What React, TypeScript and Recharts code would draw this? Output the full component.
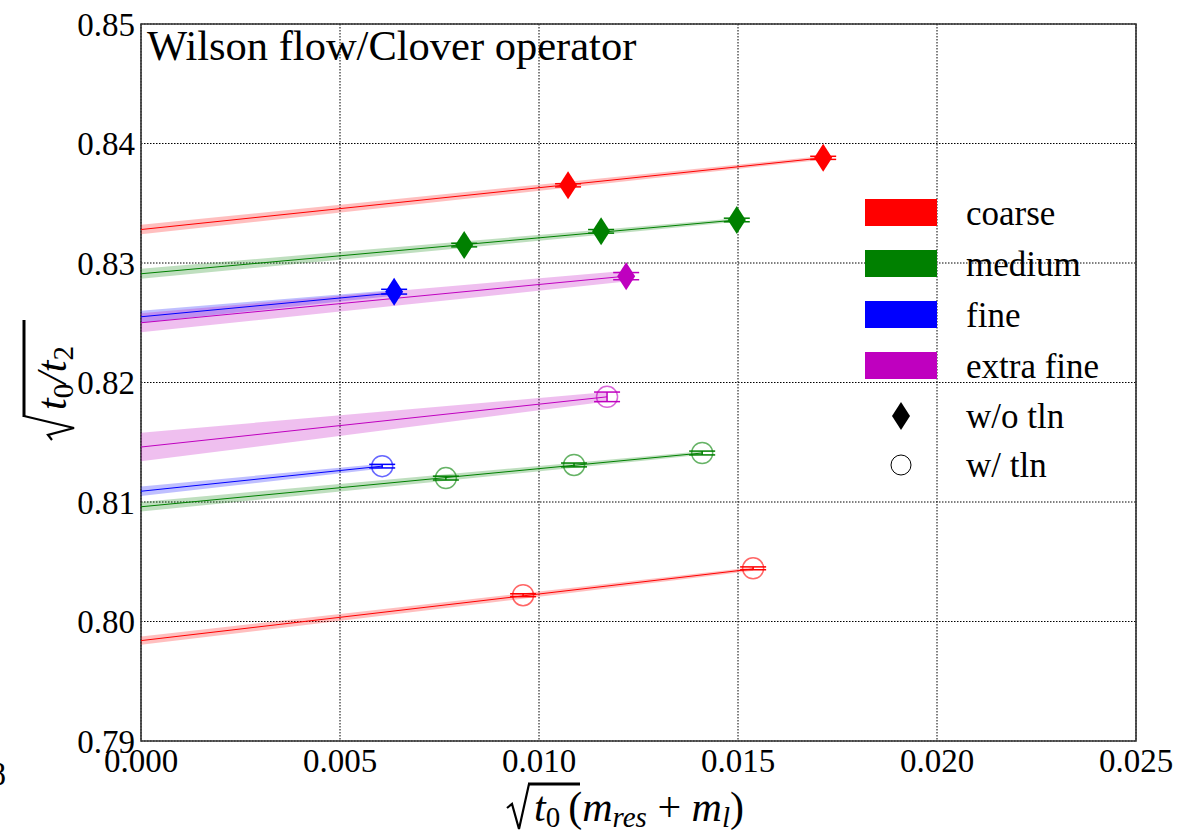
import React from 'react';
import {
  ComposedChart,
  XAxis,
  YAxis,
  CartesianGrid,
  Area,
  Line,
  Scatter,
  ErrorBar,
  ReferenceArea,
  Legend,
} from 'recharts';

const FONT = '"Liberation Serif", "DejaVu Serif", "Times New Roman", serif';

// lattice spacings and their colours
const spacings = ['coarse', 'medium', 'fine', 'extra fine'];
const colors = ['#ff0000', '#008000', '#0000ff', '#bf00bf'];

const xTicks = [0, 0.005, 0.01, 0.015, 0.02, 0.025];
const yTicks = [0.79, 0.8, 0.81, 0.82, 0.83, 0.84, 0.85];

// measurements without tree-level normalisation (diamonds)
const noTlnX = [[0.01073, 0.01714], [0.00812, 0.01156, 0.01497], [0.00636], [0.01219]];
const noTlnY = [[0.8365, 0.8388], [0.8315, 0.83265, 0.8336], [0.8276], [0.8289]];
const noTlnErr = [[0.00013, 0.00013], [0.00015, 0.00015, 0.00015], [0.0002], [0.0003]];

// measurements with tree-level normalisation (circles)
const tlnX = [[0.0096, 0.01538], [0.00766, 0.01088, 0.0141], [0.00606], [0.01171]];
const tlnY = [[0.8022, 0.80445], [0.812, 0.8131, 0.8141], [0.813], [0.8188]];
const tlnErr = [[0.00012, 0.00012], [0.00016, 0.00016, 0.00016], [0.00015], [0.0004]];

// linear chiral fits: end of fit range, value at 0 and at the end, half-width of band at both ends
const fitNoTlnEnd = [0.01714, 0.01497, 0.00636, 0.01219];
const fitNoTlnAt0 = [0.8328, 0.8291, 0.8255, 0.825];
const fitNoTlnAtEnd = [0.8388, 0.8336, 0.8275, 0.8289];
const fitNoTlnBand0 = [0.0004, 0.00042, 0.0005, 0.0008];
const fitNoTlnBandEnd = [0.00015, 0.00015, 0.00025, 0.00045];

const fitTlnEnd = [0.01538, 0.0141, 0.00606, 0.01171];
const fitTlnAt0 = [0.7984, 0.8096, 0.8109, 0.8146];
const fitTlnAtEnd = [0.8044, 0.8141, 0.813, 0.8188];
const fitTlnBand0 = [0.00035, 0.0004, 0.0004, 0.0012];
const fitTlnBandEnd = [0.00015, 0.00015, 0.0002, 0.0004];

const makePoints = (xs: number[], ys: number[], errs: number[]) =>
  xs.map((x, i) => ({ x, y: ys[i], err: errs[i] }));

const makeFit = (x1: number, y0: number, y1: number, b0: number, b1: number) => [
  { x: 0, mid: y0, band: [y0 - b0, y0 + b0] },
  { x: x1, mid: y1, band: [y1 - b1, y1 + b1] },
];

const diamondShape = (color: string) => (props: any) => {
  const { cx, cy } = props;
  if (cx == null || cy == null) return <g />;
  return (
    <path
      d={`M${cx},${cy - 14}L${cx + 9},${cy}L${cx},${cy + 14}L${cx - 9},${cy}Z`}
      fill={color}
    />
  );
};

const circleShape = (color: string) => (props: any) => {
  const { cx, cy } = props;
  if (cx == null || cy == null) return <g />;
  return (
    <circle cx={cx} cy={cy} r={10.5} fill="none" stroke={color} strokeWidth={1.5} strokeOpacity={0.6} />
  );
};

const LegendBox = () => (
  <svg width={320} height={300} style={{ overflow: 'visible', display: 'block' }}>
    {spacings.map((s, i) => (
      <g key={s}>
        <rect x={5} y={9 + i * 51} width={72} height={27} fill={colors[i]} />
        <text x={106} y={35 + i * 51} fontSize={35} fontFamily={FONT} fill="#000">
          {s}
        </text>
      </g>
    ))}
    <path d="M41,212L50,226L41,240L32,226Z" fill="#000" />
    <text x={106} y={238} fontSize={35} fontFamily={FONT} fill="#000">w/o tln</text>
    <circle cx={41} cy={275} r={10} fill="none" stroke="#000" strokeWidth={1} />
    <text x={106} y={287} fontSize={35} fontFamily={FONT} fill="#000">w/ tln</text>
  </svg>
);

const XTitle = () => {
  const x0 = 507;
  const yb = 821;
  return (
    <g fontFamily={FONT} fill="#000">
      <path
        d={`M${x0},${yb - 13}L${x0 + 5},${yb - 17}L${x0 + 12},${yb + 8}L${x0 + 22},${yb - 37}`}
        fill="none"
        stroke="#000"
        strokeWidth={2.2}
        strokeLinejoin="miter"
      />
      <line x1={x0 + 21} x2={x0 + 73} y1={yb - 37} y2={yb - 37} stroke="#000" strokeWidth={3} />
      <text x={x0 + 27} y={yb} fontSize={42}>
        <tspan fontStyle="italic">t</tspan>
        <tspan fontSize={29} dy={6}>0</tspan>
        <tspan dy={-6} dx={8}>(</tspan>
        <tspan fontStyle="italic">m</tspan>
        <tspan fontSize={29} fontStyle="italic" dy={6}>res</tspan>
        <tspan dy={-6}> + </tspan>
        <tspan fontStyle="italic">m</tspan>
        <tspan fontSize={29} fontStyle="italic" dy={6}>l</tspan>
        <tspan dy={-6}>)</tspan>
      </text>
    </g>
  );
};

const YTitle = () => (
  <g transform="translate(66,440) rotate(-90)" fontFamily={FONT} fill="#000">
    <path
      d="M0,-14L5,-18L12,8L24,-42"
      fill="none"
      stroke="#000"
      strokeWidth={2.2}
    />
    <line x1={23} x2={120} y1={-42} y2={-42} stroke="#000" strokeWidth={3} />
    <text x={30} y={0} fontSize={42}>
      <tspan fontStyle="italic">t</tspan>
      <tspan fontSize={29} dy={7}>0</tspan>
      <tspan dy={-7} fontStyle="italic">/t</tspan>
      <tspan fontSize={29} dy={7}>2</tspan>
    </text>
  </g>
);

export default function App() {
  return (
    <div style={{ position: 'absolute', left: 0, top: 0, width: 1200, height: 835, background: '#fff' }}>
      <ComposedChart width={1200} height={835} margin={{ top: 24, right: 64, bottom: 0, left: 0 }}>
        <CartesianGrid stroke="#000" strokeDasharray="1.5 1.5" strokeWidth={1} />
        <XAxis
          type="number"
          dataKey="x"
          domain={[0, 0.025]}
          ticks={xTicks}
          allowDataOverflow
          height={94}
          axisLine={false}
          tickLine={false}
          tickMargin={2}
          tickFormatter={(v: number) => v.toFixed(3)}
          tick={{ fontSize: 33, fill: '#000', fontFamily: FONT }}
        />
        <YAxis
          type="number"
          domain={[0.79, 0.85]}
          ticks={yTicks}
          allowDataOverflow
          width={141}
          axisLine={false}
          tickLine={false}
          tickMargin={0}
          tickFormatter={(v: number) => v.toFixed(2)}
          tick={{ fontSize: 33, fill: '#000', fontFamily: FONT }}
        />
        <ReferenceArea
          x1={0}
          x2={0.025}
          y1={0.79}
          y2={0.85}
          fill="none"
          stroke="#333"
          strokeWidth={1.6}
          ifOverflow="visible"
        />

        {spacings.map((s, i) => (
          <Area
            key={`band-no-${s}`}
            data={makeFit(fitNoTlnEnd[i], fitNoTlnAt0[i], fitNoTlnAtEnd[i], fitNoTlnBand0[i], fitNoTlnBandEnd[i])}
            dataKey="band"
            type="linear"
            stroke="none"
            fill={colors[i]}
            fillOpacity={0.25}
            isAnimationActive={false}
            legendType="none"
          />
        ))}
        {spacings.map((s, i) => (
          <Area
            key={`band-tln-${s}`}
            data={makeFit(fitTlnEnd[i], fitTlnAt0[i], fitTlnAtEnd[i], fitTlnBand0[i], fitTlnBandEnd[i])}
            dataKey="band"
            type="linear"
            stroke="none"
            fill={colors[i]}
            fillOpacity={0.25}
            isAnimationActive={false}
            legendType="none"
          />
        ))}
        {spacings.map((s, i) => (
          <Line
            key={`fit-no-${s}`}
            data={makeFit(fitNoTlnEnd[i], fitNoTlnAt0[i], fitNoTlnAtEnd[i], fitNoTlnBand0[i], fitNoTlnBandEnd[i])}
            dataKey="mid"
            type="linear"
            stroke={colors[i]}
            strokeWidth={1}
            dot={false}
            activeDot={false}
            isAnimationActive={false}
            legendType="none"
          />
        ))}
        {spacings.map((s, i) => (
          <Line
            key={`fit-tln-${s}`}
            data={makeFit(fitTlnEnd[i], fitTlnAt0[i], fitTlnAtEnd[i], fitTlnBand0[i], fitTlnBandEnd[i])}
            dataKey="mid"
            type="linear"
            stroke={colors[i]}
            strokeWidth={1}
            dot={false}
            activeDot={false}
            isAnimationActive={false}
            legendType="none"
          />
        ))}
        {spacings.map((s, i) => (
          <Scatter
            key={`pts-no-${s}`}
            data={makePoints(noTlnX[i], noTlnY[i], noTlnErr[i])}
            dataKey="y"
            shape={diamondShape(colors[i])}
            isAnimationActive={false}
            legendType="none"
          >
            <ErrorBar dataKey="err" direction="y" width={13} stroke={colors[i]} strokeWidth={1.5} />
          </Scatter>
        ))}
        {spacings.map((s, i) => (
          <Scatter
            key={`pts-tln-${s}`}
            data={makePoints(tlnX[i], tlnY[i], tlnErr[i])}
            dataKey="y"
            shape={circleShape(colors[i])}
            isAnimationActive={false}
            legendType="none"
          >
            <ErrorBar dataKey="err" direction="y" width={13} stroke={colors[i]} strokeWidth={1.5} />
          </Scatter>
        ))}

        <Legend
          layout="vertical"
          align="center"
          verticalAlign="middle"
          content={() => <LegendBox />}
          wrapperStyle={{ left: 860, top: 190, width: 320, height: 300 }}
        />

        <text x={147} y={60} fontSize={42.5} fontFamily={FONT} fill="#000">
          Wilson flow/Clover operator
        </text>
        <text x={6} y={785} fontSize={33} fontFamily={FONT} fill="#000" textAnchor="end">
          8
        </text>
        <XTitle />
        <YTitle />
      </ComposedChart>
    </div>
  );
}
